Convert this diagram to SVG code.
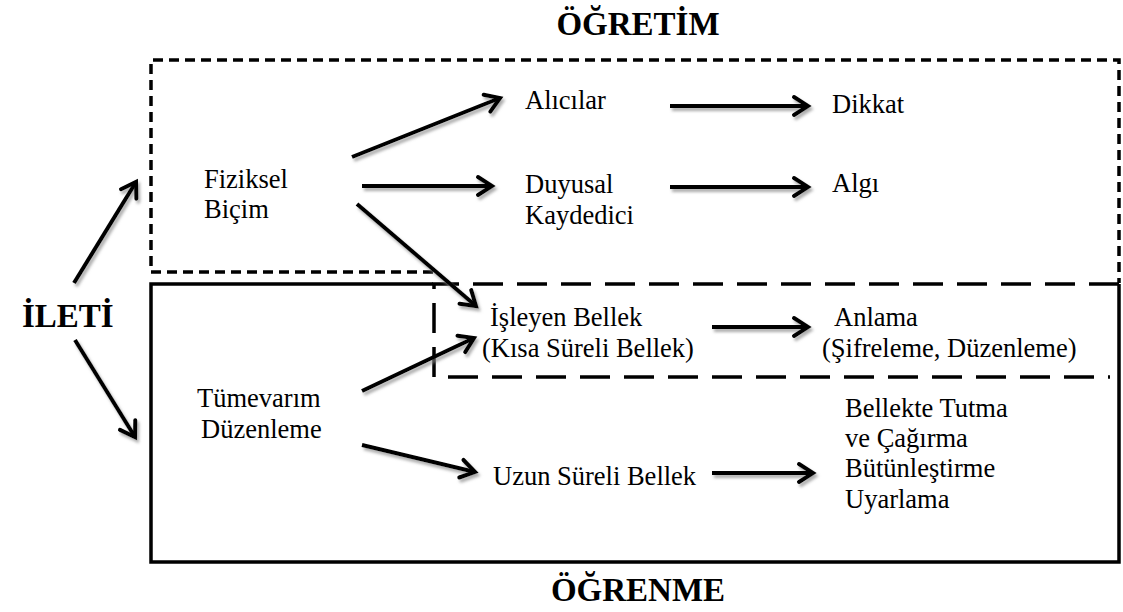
<svg xmlns="http://www.w3.org/2000/svg" width="1123" height="612" viewBox="0 0 1123 612">
<style>
text{font-family:"Liberation Serif","Times New Roman",serif;fill:#000;}
.t{font-size:26.5px;}
.h{font-size:33px;font-weight:bold;}
.c{stroke:#000;stroke-width:4;fill:none;marker-end:url(#ah);}
.box1{stroke:#000;stroke-width:3.5;fill:none;stroke-dasharray:10 6;}
.box2{stroke:#000;stroke-width:3.5;fill:none;}
.box3{stroke:#000;stroke-width:3.5;fill:none;stroke-dasharray:30 14;}
</style>
<defs>
<marker id="ah" markerUnits="userSpaceOnUse" markerWidth="30" markerHeight="30" refX="15" refY="15" orient="auto" overflow="visible">
<path d="M1,6 L15,15 L1,24" fill="none" stroke="#000" stroke-width="4" stroke-linejoin="miter" stroke-linecap="round"/>
</marker>
<filter id="sh" x="-20%" y="-20%" width="140%" height="140%">
<feDropShadow dx="2" dy="3" stdDeviation="1.5" flood-color="#888" flood-opacity="0.7"/>
</filter>
</defs>
<rect width="1123" height="612" fill="#fff"/>

<g id="regions">
<path class="box1" d="M433,272 H151 V60 H1119 V283"/>
<path class="box2" d="M433,284 H151 V562 H1119 V284"/>
<path class="box3" d="M1119,284 H434 V377 H1110"/>
</g>

<g id="titles">
<text class="h" x="638" y="35" text-anchor="middle">ÖĞRETİM</text>
<text class="h" x="638" y="601" text-anchor="middle">ÖĞRENME</text>
</g>

<g id="ileti"><text class="h" x="22" y="327">İLETİ</text></g>
<g id="fiziksel"><text class="t" x="204" y="188">Fiziksel</text><text class="t" x="204" y="218">Biçim</text></g>
<g id="alicilar"><text class="t" x="525" y="109">Alıcılar</text></g>
<g id="dikkat"><text class="t" x="832" y="113">Dikkat</text></g>
<g id="duyusal"><text class="t" x="525" y="193">Duyusal</text><text class="t" x="525" y="224">Kaydedici</text></g>
<g id="algi"><text class="t" x="832" y="192">Algı</text></g>
<g id="isleyen"><text class="t" x="490" y="326">İşleyen Bellek</text><text class="t" x="482" y="357">(Kısa Süreli Bellek)</text></g>
<g id="anlama"><text class="t" x="834" y="326">Anlama</text><text class="t" x="822" y="357">(Şifreleme, Düzenleme)</text></g>
<g id="tumevarim"><text class="t" x="197" y="407">Tümevarım</text><text class="t" x="201" y="438">Düzenleme</text></g>
<g id="uzun"><text class="t" x="493" y="485">Uzun Süreli Bellek</text></g>
<g id="bellekte"><text class="t" x="845" y="417">Bellekte Tutma</text><text class="t" x="845" y="447">ve Çağırma</text><text class="t" x="845" y="477">Bütünleştirme</text><text class="t" x="845" y="508">Uyarlama</text></g>

<g id="connectors" filter="url(#sh)">
<line class="c" x1="74" y1="283" x2="136" y2="182"/>
<line class="c" x1="75" y1="340" x2="135" y2="437"/>
<line class="c" x1="352" y1="157" x2="500" y2="98"/>
<line class="c" x1="362" y1="186" x2="492" y2="186"/>
<line class="c" x1="357" y1="204" x2="476" y2="306"/>
<line class="c" x1="670" y1="106" x2="808" y2="106"/>
<line class="c" x1="670" y1="187" x2="808" y2="187"/>
<line class="c" x1="362" y1="391" x2="474" y2="338"/>
<line class="c" x1="362" y1="445" x2="475" y2="472"/>
<line class="c" x1="712" y1="327" x2="808" y2="327"/>
<line class="c" x1="712" y1="473" x2="813" y2="473"/>
</g>
</svg>
